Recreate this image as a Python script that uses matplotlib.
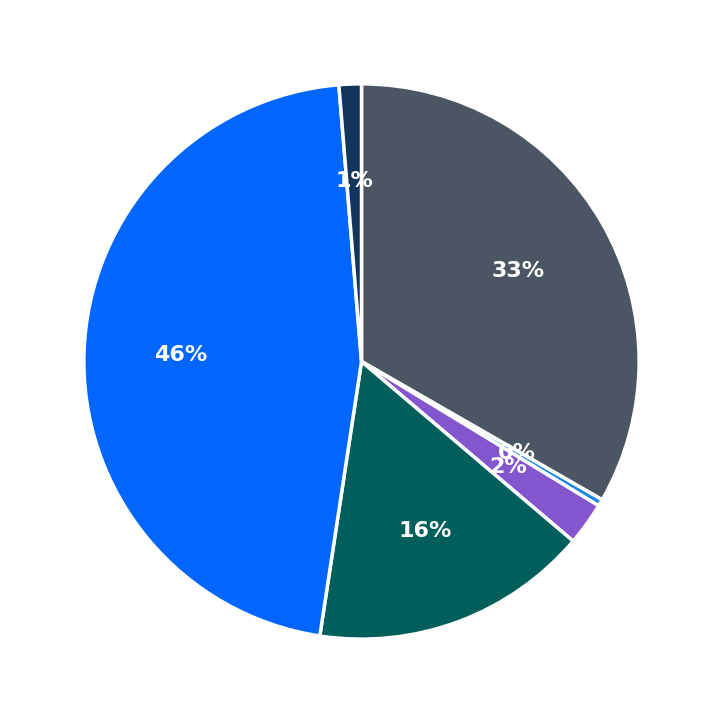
import matplotlib
matplotlib.use("Agg")
import matplotlib.pyplot as plt

labels = ["A", "B", "C", "D", "E", "F"]
values = [33.3, 0.4, 2.5, 16.2, 46.3, 1.3]
colors = ["#4b5563", "#1e88e5", "#8456ce", "#005f5b", "#0066ff", "#12355b"]

fig = plt.figure(figsize=(7.23, 7.23), dpi=100)
ax = fig.add_axes([0.02, 0.02, 0.96, 0.96])
wedges, texts, autotexts = ax.pie(
    values, colors=colors, startangle=90, counterclock=False,
    autopct="%.0f%%", pctdistance=0.65,
    wedgeprops=dict(edgecolor="white", linewidth=2.5),
    textprops=dict(color="white", fontsize=16, fontweight="bold"))
ax.set_aspect("equal")
fig.savefig("out.png", dpi=100)
